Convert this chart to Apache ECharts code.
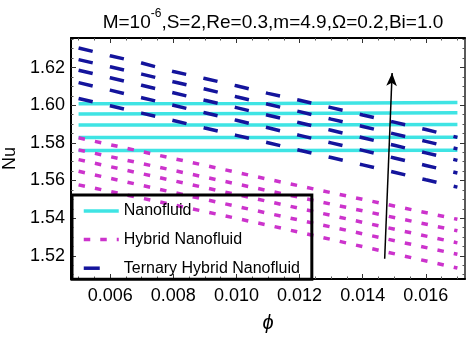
<!DOCTYPE html>
<html>
<head>
<meta charset="utf-8">
<script src="https://cdn.jsdelivr.net/npm/echarts@6/dist/echarts.min.js"></script>
<style>html,body{margin:0;padding:0;background:#fff;}#c{width:474px;height:339px;}</style>
</head>
<body>
<div id="c"></div>
<script>
// ---- data ----
const X_NANO = [0.005, 0.011, 0.017];
const NANO_1 = [1.6008, 1.6009, 1.6014];
const NANO_2 = [1.5953, 1.5956, 1.5960];
const NANO_3 = [1.5895, 1.5895, 1.5898];
const NANO_4 = [1.5829, 1.5828, 1.5830];
const NANO_5 = [1.5759, 1.5759, 1.5761];

const X_HYB = [0.005, 0.008, 0.011, 0.014, 0.017];
const HYB_1 = [1.5827, 1.5717, 1.5607, 1.5500, 1.5394];
const HYB_2 = [1.5763, 1.5654, 1.5546, 1.5439, 1.5333];
const HYB_3 = [1.5711, 1.5599, 1.5489, 1.5378, 1.5269];
const HYB_4 = [1.5649, 1.5537, 1.5426, 1.5317, 1.5208];
const HYB_5 = [1.5577, 1.5471, 1.5363, 1.5249, 1.5135];

const X_TER = [0.005, 0.006, 0.007, 0.008, 0.009, 0.010, 0.011, 0.012, 0.013, 0.014, 0.015, 0.016, 0.017];
const TER_1 = [1.6304, 1.6263, 1.6224, 1.6179, 1.6142, 1.6103, 1.6063, 1.6026, 1.5987, 1.5948, 1.5910, 1.5871, 1.5829];
const TER_2 = [1.6242, 1.6204, 1.6165, 1.6125, 1.6086, 1.6045, 1.6005, 1.5966, 1.5926, 1.5887, 1.5848, 1.5808, 1.5768];
const TER_3 = [1.6186, 1.6146, 1.6106, 1.6066, 1.6026, 1.5987, 1.5947, 1.5907, 1.5867, 1.5827, 1.5787, 1.5747, 1.5707];
const TER_4 = [1.6120, 1.6080, 1.6040, 1.6000, 1.5960, 1.5920, 1.5880, 1.5840, 1.5800, 1.5760, 1.5720, 1.5680, 1.5640];
const TER_5 = [1.6036, 1.5997, 1.5958, 1.5919, 1.5879, 1.5840, 1.5801, 1.5761, 1.5722, 1.5683, 1.5644, 1.5604, 1.5565];

const X_TICKS = [0.006, 0.008, 0.010, 0.012, 0.014, 0.016];
const Y_TICKS = [1.52, 1.54, 1.56, 1.58, 1.60, 1.62];
const X_RANGE = [0.00476, 0.01724];
const Y_RANGE = [1.5077, 1.6357];
const ARROW_FROM = [0.014696, 1.5185];
const ARROW_TO = [0.014931, 1.6171];

const NAMES = ['Nanofluid', 'Hybrid Nanofluid', 'Ternary Hybrid Nanofluid'];
const TITLE_MAIN = 'M=10';
const TITLE_SUP = '-6';
const TITLE_REST = ',S=2,Re=0.3,m=4.9,Ω=0.2,Bi=1.0';

// ---- build ----
const FONT = 'Liberation Sans, Arial, sans-serif';
function minorList(a, b, step, majors) {
  const out = [];
  for (let v = a; v <= b + 1e-9; v += step) {
    const r = Math.round(v / step) * step;
    if (!majors.some(m => Math.abs(m - r) < step / 10)) out.push(+r.toFixed(6));
  }
  return out;
}
const X_MINOR = minorList(0.005, 0.017, 0.0005, X_TICKS);
const Y_MINOR = minorList(1.51, 1.635, 0.005, Y_TICKS);

const zip = (xs, ys) => xs.map((x, i) => [x, ys[i]]);
const styles = {
  0: { color: '#3fe4e4', type: 'solid', legendType: 'solid' },
  1: { color: '#cc33cc', type: [6.5, 10.2], legendType: [6.5, 10] },
  2: { color: '#14149c', type: [14.5, 17.6], legendType: [16, 40] }
};
const groups = [
  [0, X_NANO, [NANO_1, NANO_2, NANO_3, NANO_4, NANO_5]],
  [1, X_HYB, [HYB_1, HYB_2, HYB_3, HYB_4, HYB_5]],
  [2, X_TER, [TER_1, TER_2, TER_3, TER_4, TER_5]]
];
const series = [];
groups.forEach(([g, xs, arr]) => {
  arr.forEach(ys => {
    series.push({
      type: 'line', name: NAMES[g], data: zip(xs, ys),
      symbol: 'none', showSymbol: false, smooth: false, silent: true,
      color: styles[g].color,
      lineStyle: { color: styles[g].color, width: 3.5, type: styles[g].type, cap: 'butt' },
      z: 2 + g
    });
  });
});
series.push({
  type: 'line', name: 'arrow', data: [], silent: true, z: 10,
  markLine: {
    silent: true, animation: false, symbol: ['none', 'arrow'], symbolSize: [8, 13],
    label: { show: false },
    lineStyle: { color: '#000', width: 1.5, type: 'solid' },
    data: [[{ coord: ARROW_FROM }, { coord: ARROW_TO }]]
  }
});

function axisCommon(extra) {
  return Object.assign({
    type: 'value', splitLine: { show: false }
  }, extra);
}

const option = {
  animation: false,
  backgroundColor: '#fff',
  title: {
    text: '{n|' + TITLE_MAIN + '}{s|' + TITLE_SUP + '}{n|' + TITLE_REST + '}',
    left: 268, top: 3, textAlign: 'center',
    textStyle: {
      fontWeight: 'normal',
      rich: {
        n: { fontFamily: FONT, fontSize: 19, fontWeight: 'normal', color: '#000', lineHeight: 24, verticalAlign: 'bottom' },
        s: { fontFamily: FONT, fontSize: 12, fontWeight: 'normal', color: '#000', lineHeight: 24, verticalAlign: 'top' }
      }
    }
  },
  grid: { left: 71, right: 9, top: 38, bottom: 60, containLabel: false, outerBoundsMode: 'none' },
  legend: {
    data: NAMES.map((n, i) => ({
      name: n, itemStyle: { opacity: 0 },
      lineStyle: { width: 3.5, color: styles[i].color, type: styles[i].legendType, cap: 'butt' }
    })),
    orient: 'vertical', left: 72, top: 195,
    itemWidth: 35, itemHeight: 14, itemGap: 12.6,
    padding: [8, 12, 3, 10],
    itemStyle: { opacity: 0 },
    lineStyle: { width: 3.5 },
    borderColor: '#000', borderWidth: 3, backgroundColor: 'transparent',
    textStyle: { fontFamily: FONT, fontSize: 16, color: '#000' },
    selectedMode: false
  },
  xAxis: [
    axisCommon({
      min: X_RANGE[0], max: X_RANGE[1], position: 'bottom',
      axisLine: { show: true, onZero: false, lineStyle: { color: '#000', width: 2 } },
      axisTick: { show: true, inside: true, length: 5, customValues: X_TICKS, lineStyle: { color: '#333', width: 1 } },
      axisLabel: { show: true, customValues: X_TICKS, formatter: v => v.toFixed(3), fontFamily: FONT, fontSize: 18, color: '#000', margin: 8 },
      name: 'ϕ', nameLocation: 'middle', nameGap: 34,
      nameTextStyle: { fontFamily: FONT, fontSize: 20, fontStyle: 'italic', color: '#000' }
    }),
    axisCommon({
      min: X_RANGE[0], max: X_RANGE[1], position: 'bottom',
      axisLine: { show: false, onZero: false },
      axisTick: { show: true, inside: true, length: 2.5, customValues: X_MINOR, lineStyle: { color: '#555', width: 1 } },
      axisLabel: { show: false }
    }),
    axisCommon({
      min: X_RANGE[0], max: X_RANGE[1], position: 'top',
      axisLine: { show: true, onZero: false, lineStyle: { color: '#000', width: 2 } },
      axisTick: { show: true, inside: true, length: 5, customValues: X_TICKS, lineStyle: { color: '#333', width: 1 } },
      axisLabel: { show: false }
    }),
    axisCommon({
      min: X_RANGE[0], max: X_RANGE[1], position: 'top',
      axisLine: { show: false, onZero: false },
      axisTick: { show: true, inside: true, length: 2.5, customValues: X_MINOR, lineStyle: { color: '#555', width: 1 } },
      axisLabel: { show: false }
    })
  ],
  yAxis: [
    axisCommon({
      min: Y_RANGE[0], max: Y_RANGE[1], position: 'left',
      axisLine: { show: true, onZero: false, lineStyle: { color: '#000', width: 2 } },
      axisTick: { show: true, inside: true, length: 5, customValues: Y_TICKS, lineStyle: { color: '#333', width: 1 } },
      axisLabel: { show: true, customValues: Y_TICKS, formatter: v => v.toFixed(2), fontFamily: FONT, fontSize: 18, color: '#000', margin: 6 },
      name: 'Nu', nameLocation: 'middle', nameGap: 49, nameRotate: 90,
      nameTextStyle: { fontFamily: FONT, fontSize: 18, color: '#000' }
    }),
    axisCommon({
      min: Y_RANGE[0], max: Y_RANGE[1], position: 'left',
      axisLine: { show: false, onZero: false },
      axisTick: { show: true, inside: true, length: 2.5, customValues: Y_MINOR, lineStyle: { color: '#555', width: 1 } },
      axisLabel: { show: false }
    }),
    axisCommon({
      min: Y_RANGE[0], max: Y_RANGE[1], position: 'right',
      axisLine: { show: true, onZero: false, lineStyle: { color: '#222', width: 1.5 } },
      axisTick: { show: true, inside: true, length: 5, customValues: Y_TICKS, lineStyle: { color: '#333', width: 1 } },
      axisLabel: { show: false }
    }),
    axisCommon({
      min: Y_RANGE[0], max: Y_RANGE[1], position: 'right',
      axisLine: { show: false, onZero: false },
      axisTick: { show: true, inside: true, length: 2.5, customValues: Y_MINOR, lineStyle: { color: '#555', width: 1 } },
      axisLabel: { show: false }
    })
  ],
  series: series
};

const chart = echarts.init(document.getElementById('c'), null, { renderer: 'canvas' });
chart.setOption(option);
</script>
</body>
</html>
